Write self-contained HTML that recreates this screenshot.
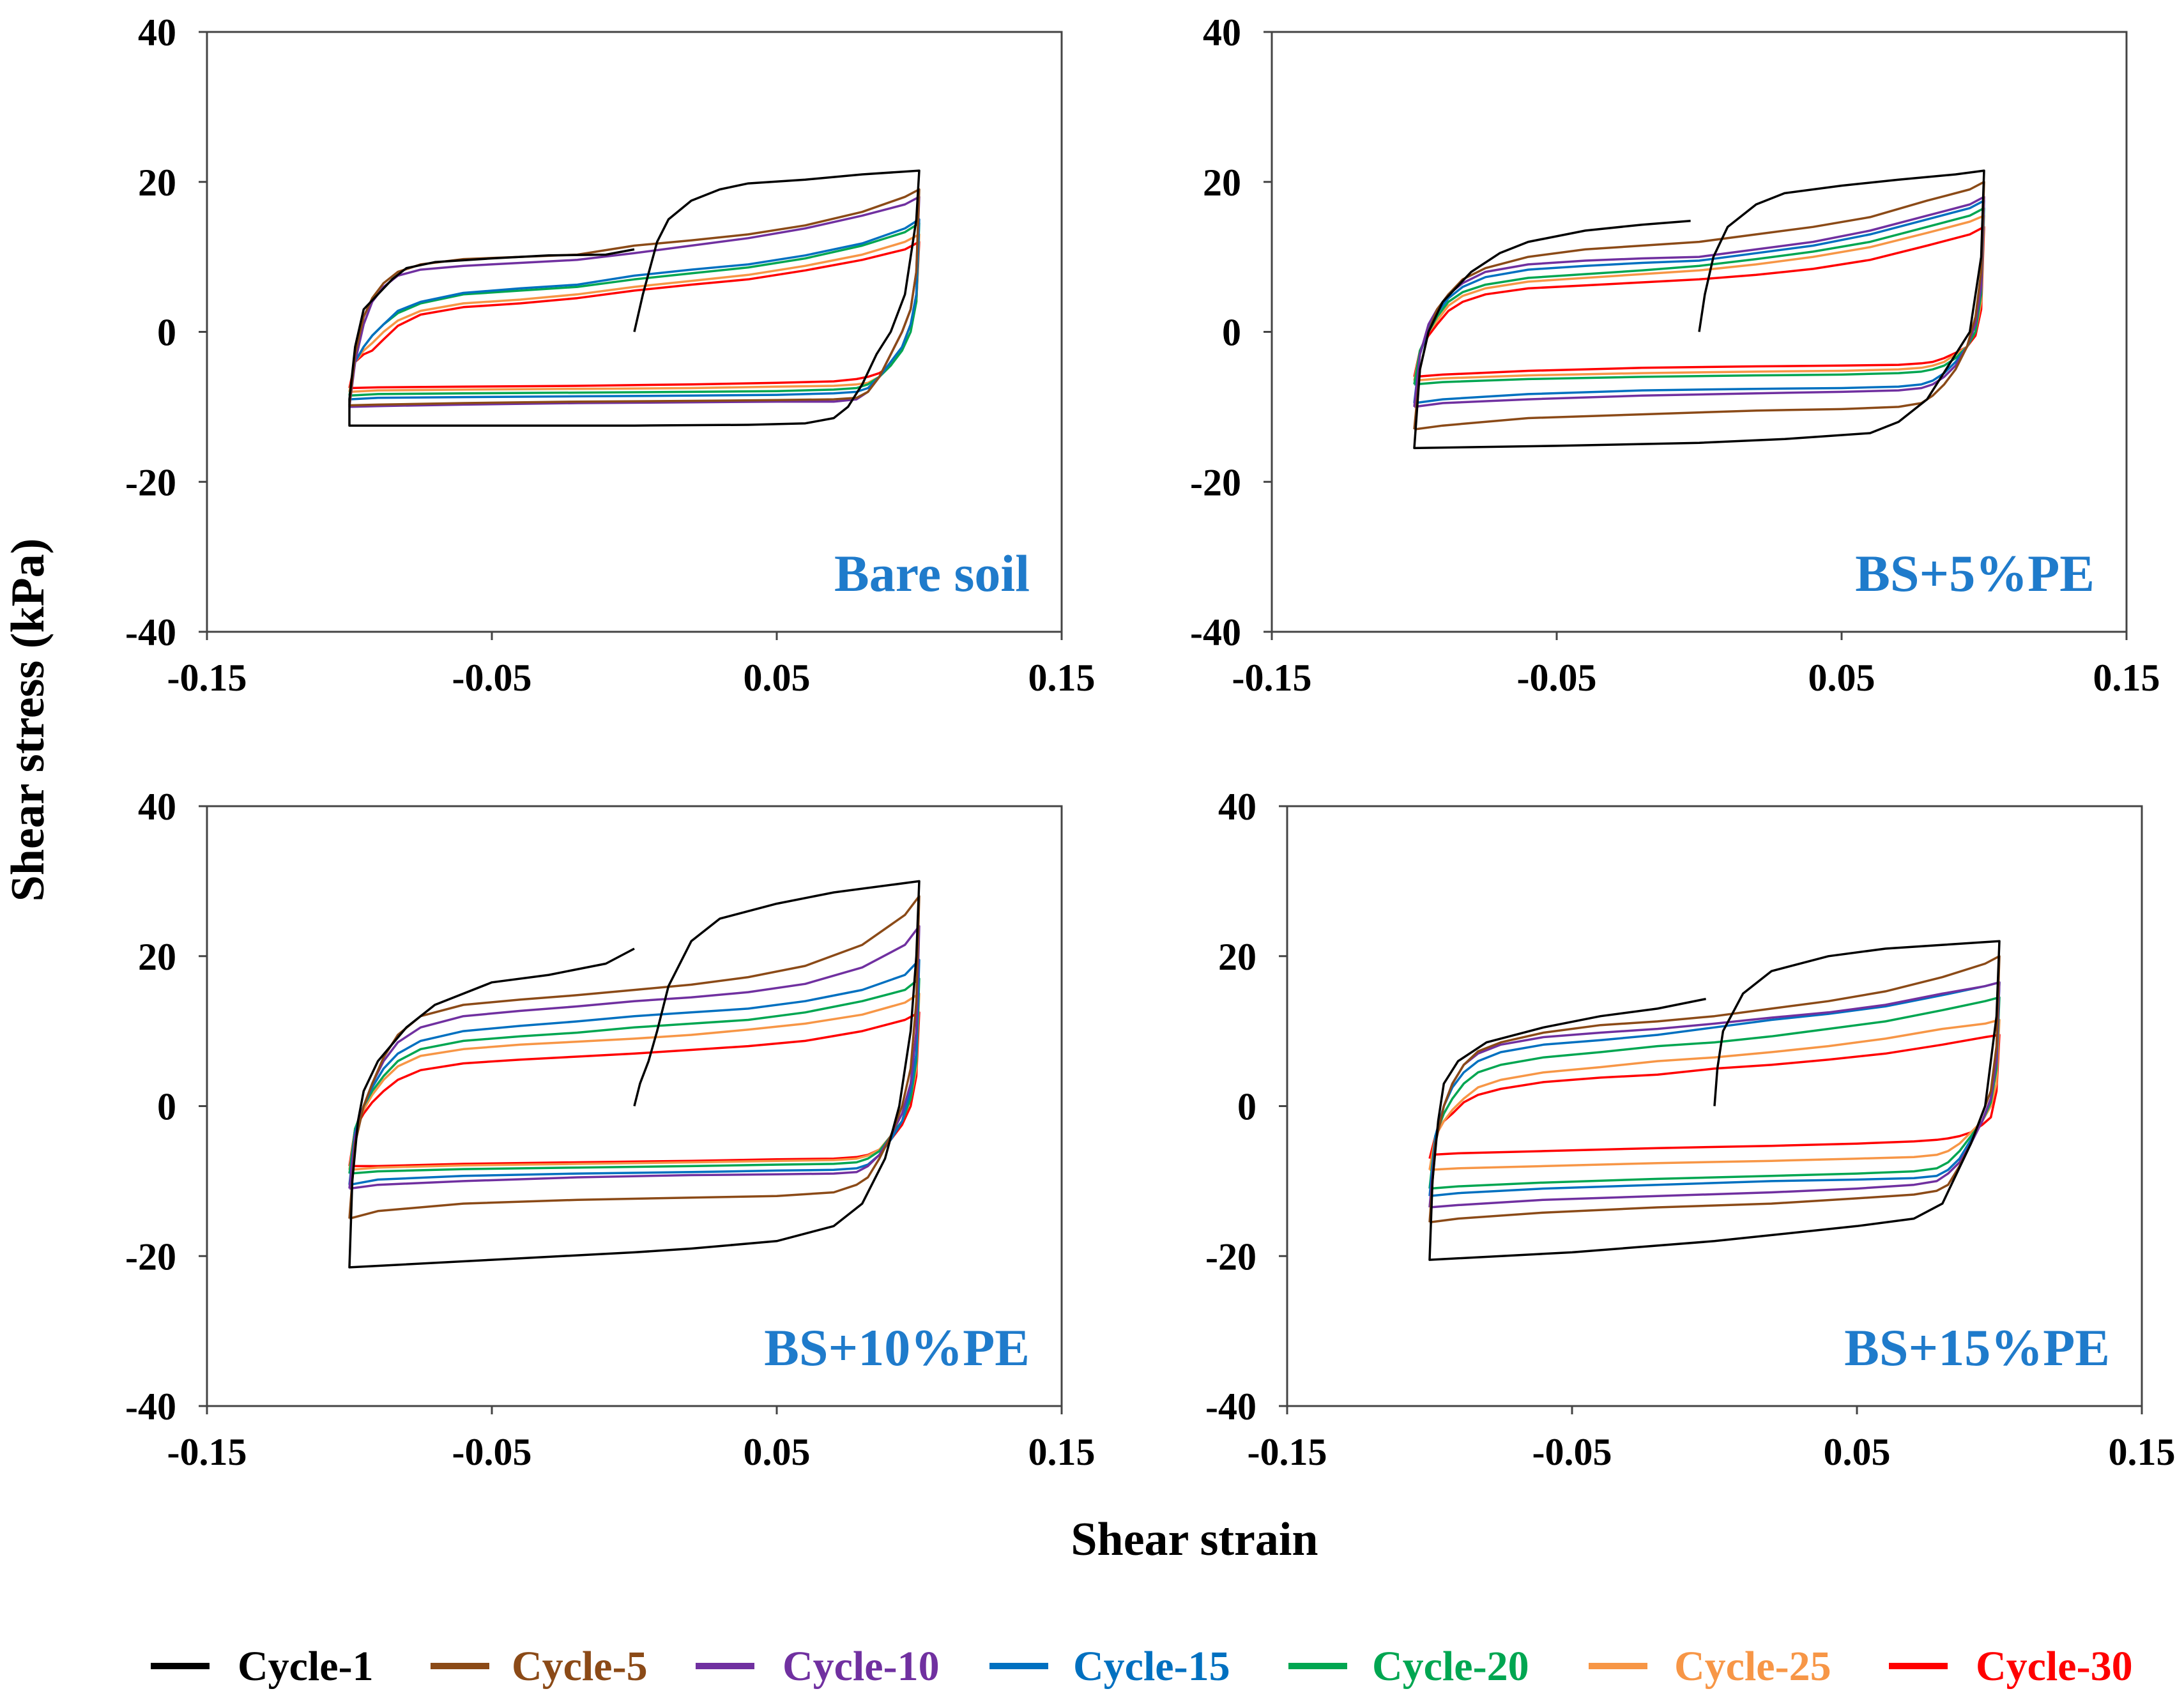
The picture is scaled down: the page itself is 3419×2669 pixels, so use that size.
<!DOCTYPE html>
<html><head><meta charset="utf-8">
<style>
html,body{margin:0;padding:0;background:#fff;}
svg{display:block;}
text{font-family:"Liberation Serif",serif;font-weight:bold;}
</style></head>
<body>
<svg id="chart" width="3419" height="2669" viewBox="0 0 3419 2669" xmlns="http://www.w3.org/2000/svg">
<text x="0" y="0" font-size="74" text-anchor="middle" transform="translate(68,1127) rotate(-90)">Shear stress (kPa)</text>
<text x="1870" y="2434" font-size="74" text-anchor="middle">Shear strain</text>
</svg>
<script>
const NS='http://www.w3.org/2000/svg';
const svg=document.getElementById('chart');
const xTicks=[-0.15,-0.05,0.05,0.15];
const xTickLabels=['-0.15','-0.05','0.05','0.15'];
const yTicks=[-40,-20,0,20,40];
const yTickLabels=['-40','-20','0','20','40'];
const cycleNames=['Cycle-1','Cycle-5','Cycle-10','Cycle-15','Cycle-20','Cycle-25','Cycle-30'];
const cycleColors=['#000000','#8B4A17','#7030A0','#0070C0','#00A651','#F79646','#FF0000'];
const panelTitles=['Bare soil','BS+5%PE','BS+10%PE','BS+15%PE'];
const upStrain=[-0.1,-0.098,-0.095,-0.092,-0.088,-0.083,-0.075,-0.06,-0.04,-0.02,0,0.02,0.04,0.06,0.08,0.095,0.1];
const lowStrain=[0.1,0.099,0.097,0.094,0.09,0.086,0.082,0.078,0.07,0.05,0.02,-0.02,-0.06,-0.09,-0.1];
const c1x=[
[0,0.003,0.008,0.012,0.02,0.03,0.04,0.06,0.08,0.1,0.099,0.095,0.09,0.085,0.08,0.075,0.07,0.06,0.04,0.0,-0.05,-0.1,-0.1,-0.098,-0.095,-0.09,-0.085,-0.08,-0.07,-0.05,-0.03,-0.01,0],
[0,0.002,0.005,0.01,0.02,0.03,0.05,0.07,0.09,0.1,0.099,0.095,0.09,0.085,0.08,0.07,0.06,0.03,0,-0.05,-0.1,-0.1,-0.098,-0.095,-0.09,-0.085,-0.08,-0.07,-0.06,-0.04,-0.02,-0.003],
[0,0.002,0.005,0.008,0.012,0.02,0.03,0.05,0.07,0.1,0.099,0.097,0.093,0.088,0.08,0.07,0.05,0.02,0,-0.05,-0.1,-0.1,-0.099,-0.097,-0.095,-0.09,-0.08,-0.07,-0.05,-0.03,-0.01,0],
[0,0.001,0.003,0.01,0.02,0.04,0.06,0.08,0.1,0.099,0.095,0.09,0.085,0.08,0.07,0.05,0,-0.05,-0.1,-0.1,-0.099,-0.097,-0.095,-0.09,-0.08,-0.06,-0.04,-0.02,-0.003]];
const c1y=[
[0,5,12,15,17.5,19,19.8,20.3,21,21.5,15,5,0,-3,-7,-10,-11.5,-12.2,-12.4,-12.5,-12.5,-12.5,-9,-2,3,5,7,8.5,9.3,9.8,10.2,10.3,11],
[0,5,10,14,17,18.5,19.5,20.3,21,21.5,10,0,-3,-6,-9,-12,-13.5,-14.3,-14.8,-15.2,-15.5,-15.5,-5,0,4,6,8,10.5,12,13.5,14.3,14.8],
[0,3,6,10,16,22,25,27,28.5,30,20,10,0,-7,-13,-16,-18,-19,-19.5,-20.5,-21.5,-21.5,-10,-2,2,6,10.5,13.5,16.5,17.5,19,21],
[0,5,10,15,18,20,21,21.5,22,12,0,-5,-9,-13,-15,-16,-18,-19.5,-20.5,-20.5,-10,-2,3,6,8.5,10.5,12,13,14.3]];
const p1Up=[
[-9.8,-3,2,4.5,6.5,8,9,9.7,10,10.3,11.5,12.2,13,14.2,16,18,19],
[-10,-4,1,4,6,7.5,8.3,8.8,9.2,9.6,10.5,11.5,12.5,13.8,15.5,17,18],
[-9,-4,-2,-0.5,1,2.8,4,5.2,5.8,6.3,7.5,8.3,9,10.2,11.8,13.8,15],
[-8.5,-4,-2,-0.5,1,2.5,3.8,5,5.5,6,7,7.8,8.6,9.8,11.5,13.3,14.5],
[-8,-4,-2.5,-1.5,0,1.5,2.8,3.8,4.3,5,6,6.8,7.6,8.8,10.3,12,13],
[-7.5,-4,-3,-2.5,-1,0.8,2.3,3.3,3.8,4.5,5.5,6.3,7,8.2,9.6,11,12]];
const p1Low=[
[19,8,3,0,-3,-6,-8,-8.8,-9,-9.1,-9.2,-9.3,-9.5,-9.7,-9.8],
[18,8,3,0,-3,-6,-8,-9,-9.3,-9.3,-9.4,-9.5,-9.7,-9.9,-10],
[15,5,1,-2,-4,-6,-7.5,-8,-8.2,-8.4,-8.5,-8.6,-8.7,-8.8,-9],
[14.5,4,0,-2.5,-4.5,-6,-7,-7.5,-7.7,-7.9,-8,-8.1,-8.2,-8.3,-8.5],
[13,4,1,-2,-4.5,-6,-6.8,-7,-7.2,-7.3,-7.5,-7.6,-7.7,-7.8,-8],
[12,4,1,-2,-4.5,-5.5,-6,-6.3,-6.6,-6.8,-7,-7.2,-7.3,-7.4,-7.5]];
const p2Up=[
[-13,-5,0,3,5,7,8.5,10,11,11.5,12,13,14,15.3,17.5,19,20],
[-10,-3,1,3,5,6.5,8,9,9.5,9.8,10,11,12,13.5,15.5,17,18],
[-9.5,-3,0.5,2.5,4.5,6,7.3,8.3,8.8,9.2,9.5,10.5,11.5,13,15,16.5,17.5],
[-7,-2.5,0,2,4,5.3,6.3,7.2,7.7,8.2,8.8,9.7,10.7,12,14,15.5,16.5],
[-6.5,-2.5,0,1.5,3.5,4.8,5.8,6.7,7.2,7.7,8.2,9,10,11.3,13.2,14.7,15.5],
[-6,-2.5,-0.5,1,2.8,4,5,5.8,6.2,6.6,7,7.6,8.4,9.6,11.5,13,14]];
const p2Low=[
[20,8,2,-2,-5,-7,-8.5,-9.5,-10,-10.3,-10.5,-11,-11.5,-12.5,-13],
[18,6,1,-2,-4.5,-6,-7,-7.5,-7.8,-8,-8.2,-8.5,-9,-9.5,-10],
[17.5,6,1,-2,-4,-5.5,-6.5,-7,-7.3,-7.5,-7.6,-7.8,-8.3,-9,-9.5],
[16.5,5,0,-2,-3.5,-4.5,-5,-5.3,-5.5,-5.7,-5.8,-6,-6.3,-6.7,-7],
[15.5,4,0,-2,-3,-4,-4.5,-4.8,-5,-5.2,-5.3,-5.5,-5.8,-6.2,-6.5],
[14,3,-0.5,-2,-2.8,-3.5,-4,-4.2,-4.4,-4.5,-4.6,-4.8,-5.2,-5.7,-6]];
const p3Up=[
[-15,-5,0,3,6.5,9.5,12,13.5,14.2,14.8,15.5,16.2,17.2,18.7,21.5,25.5,28],
[-11,-4,0,3,6,8.5,10.5,12,12.7,13.3,14,14.5,15.2,16.3,18.5,21.5,24],
[-10.5,-3.5,0,2.5,5,7,8.7,10,10.7,11.3,12,12.5,13,14,15.5,17.5,19.5],
[-9,-3,0,2,4,6,7.6,8.7,9.3,9.8,10.5,11,11.5,12.5,14,15.5,17],
[-8.5,-3,-0.5,1.5,3.5,5.3,6.7,7.6,8.2,8.6,9,9.5,10.2,11,12.2,13.8,15],
[-8,-3,-1,0.5,2,3.5,4.8,5.7,6.2,6.6,7,7.5,8,8.7,10,11.5,12.5]];
const p3Low=[
[28,14,5,0,-4,-7,-9.5,-10.5,-11.5,-12,-12.2,-12.5,-13,-14,-15],
[24,10,3,-1,-4,-6.5,-8,-8.8,-9,-9.1,-9.2,-9.5,-10,-10.5,-11],
[19.5,7,2,-2,-4.5,-6.5,-7.8,-8.3,-8.5,-8.6,-8.8,-9,-9.3,-9.8,-10.5],
[17,6,1,-2,-4,-6,-7,-7.5,-7.7,-7.8,-8,-8.2,-8.4,-8.7,-9],
[15,5,1,-2,-4,-5.8,-6.6,-7,-7.2,-7.3,-7.5,-7.7,-7.9,-8.2,-8.5],
[12.5,4,0,-2.5,-4.5,-5.8,-6.5,-6.8,-7,-7.1,-7.3,-7.5,-7.7,-8,-8]];
const p4Up=[
[-15.5,-5,0,3,5.5,7.3,8.5,9.8,10.8,11.3,12,13,14,15.3,17.2,19,20],
[-13.5,-5,0,3,5.5,7,8.2,9.2,9.8,10.3,11,11.8,12.5,13.5,15,16,16.5],
[-12,-4,0,2.5,4.5,6,7.2,8.2,8.8,9.5,10.5,11.5,12.3,13.3,14.8,16,16.5],
[-11,-4,-1,1,3,4.5,5.5,6.5,7.2,8,8.5,9.3,10.3,11.3,12.8,14,14.5],
[-8.5,-4,-2,-0.5,1,2.5,3.5,4.5,5.2,6,6.5,7.2,8,9,10.3,11,11.5],
[-7,-4,-2,-1,0.5,1.5,2.3,3.2,3.8,4.2,5,5.5,6.2,7,8.2,9.2,9.5]];
const p4Low=[
[20,8,2,-1,-5,-8,-10.5,-11.3,-11.8,-12.3,-13,-13.5,-14.2,-15,-15.5],
[16.5,6,1,-2,-5,-7.5,-9,-10,-10.5,-11,-11.5,-12,-12.5,-13.2,-13.5],
[16.5,6,1,-2,-4.5,-7,-8.5,-9.3,-9.6,-9.8,-10,-10.5,-11,-11.6,-12],
[14.5,5,0.5,-2,-4,-6,-7.5,-8.3,-8.7,-9,-9.3,-9.7,-10.2,-10.7,-11],
[11.5,3,0,-2,-3.5,-5,-6,-6.5,-6.8,-7,-7.3,-7.6,-8,-8.3,-8.5],
[9.5,2,-1.5,-2.5,-3.5,-4,-4.3,-4.5,-4.7,-5,-5.3,-5.6,-6,-6.3,-6.5]];
const panelUp=[p1Up,p2Up,p3Up,p4Up];
const panelLow=[p1Low,p2Low,p3Low,p4Low];

const boxes=[{L:324,R:1662,T:50,B:989},{L:1991,R:3329,T:50,B:989},{L:324,R:1662,T:1262,B:2201},{L:2015,R:3353,T:1262,B:2201}];
function mk(tag,attrs){const e=document.createElementNS(NS,tag);for(const k in attrs)e.setAttribute(k,attrs[k]);return e;}

boxes.forEach((b,pi)=>{
  const g=mk('g',{});
  
  
  svg.appendChild(g);
  const sx=v=>b.L+(v+0.15)/0.3*(b.R-b.L);
  const sy=v=>b.B-(v+40)/80*(b.B-b.T);
  const frame=mk('rect',{x:b.L,y:b.T,width:b.R-b.L,height:b.B-b.T,fill:'none',stroke:'#444','stroke-width':3});
  
  
  g.appendChild(frame);
  yTicks.forEach((t,i)=>{
    const y=sy(t);
    g.appendChild(mk('line',{x1:b.L-13,x2:b.L,y1:y,y2:y,stroke:'#444','stroke-width':3}));
    const tx=mk('text',{x:b.L-48,y:y+21,'font-size':60,'text-anchor':'end'});
    
    
    tx.textContent=yTickLabels[i];g.appendChild(tx);
  });
  xTicks.forEach((t,i)=>{
    const x=sx(t);
    g.appendChild(mk('line',{x1:x,x2:x,y1:b.B,y2:b.B+13,stroke:'#444','stroke-width':3}));
    const tx=mk('text',{x:x,y:b.B+92,'font-size':60,'text-anchor':'middle'});
    
    
    tx.textContent=xTickLabels[i];g.appendChild(tx);
  });
  for(let c=5;c>=0;c--){
    const up=panelUp[pi][c],lo=panelLow[pi][c];
    let pts=upStrain.map((s,i)=>sx(s).toFixed(1)+','+sy(up[i]).toFixed(1));
    pts=pts.concat(lowStrain.map((s,i)=>sx(s).toFixed(1)+','+sy(lo[i]).toFixed(1)));
    const pl=mk('polyline',{points:pts.join(' '),fill:'none',stroke:cycleColors[c+1],'stroke-width':3.5,'stroke-linejoin':'round'});
    
    
    g.appendChild(pl);
  }
  const p1=c1x[pi].map((s,i)=>sx(s).toFixed(1)+','+sy(c1y[pi][i]).toFixed(1)).join(' ');
  const pl1=mk('polyline',{points:p1,fill:'none',stroke:cycleColors[0],'stroke-width':3.5,'stroke-linejoin':'round'});
  
  
  g.appendChild(pl1);
  const tt=mk('text',{x:b.R-50,y:b.B-64,'font-size':82,'text-anchor':'end',fill:'#1F7BCB'});
  
  
  tt.textContent=panelTitles[pi];g.appendChild(tt);
});

const legLineX=[236,674,1089,1549,2017,2487,2957];
const legTextX=[372,801,1225,1680,2148,2621,3093];
const lg=mk('g',{});


svg.appendChild(lg);
cycleNames.forEach((n,i)=>{
  const e=mk('g',{});
  
  
  e.appendChild(mk('rect',{x:legLineX[i],y:2603,width:92,height:10,fill:cycleColors[i]}));
  const t=mk('text',{x:legTextX[i],y:2630,'font-size':66,fill:cycleColors[i]});
  t.textContent=n;e.appendChild(t);
  lg.appendChild(e);
});
</script>
</body></html>
